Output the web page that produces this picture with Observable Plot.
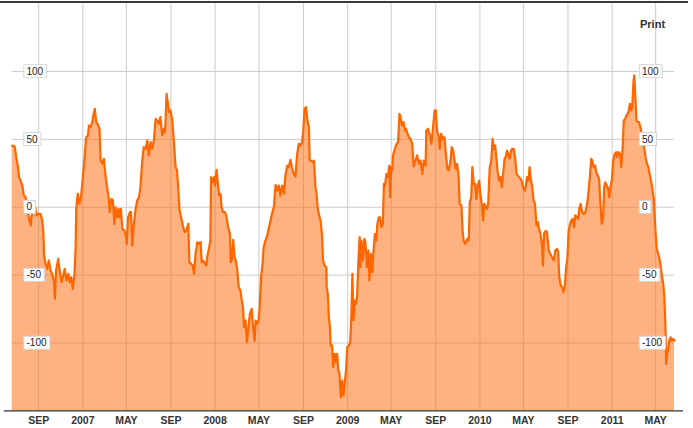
<!DOCTYPE html>
<html><head><meta charset="utf-8">
<script src="https://cdn.jsdelivr.net/npm/d3@7"></script>
<script src="https://cdn.jsdelivr.net/npm/@observablehq/plot@0.6"></script>
<style>
body{margin:0;background:#fff;font-family:"Liberation Sans",Arial,sans-serif;}
#wrap{position:relative;width:693px;height:428px;overflow:hidden;}
#chart{position:absolute;left:0;top:0;}
#print{position:absolute;left:640px;top:19px;font-size:11px;line-height:11px;font-weight:bold;color:#333;}
#topline{position:absolute;left:0;top:1px;width:688px;height:0;border-top:2px solid #3a3a3a;}
</style></head><body>
<div id="wrap"><div id="chart"></div><div id="topline"></div><div id="print">Print</div></div>
<script>
const obs2006 = [["2006-06-20",45.4],["2006-06-27",44.8],["2006-07-01",37],["2006-07-06",29.5],["2006-07-09",22.2],["2006-07-13",19.7],["2006-07-18",16],["2006-07-22",8.7],["2006-07-27",7.4],["2006-07-31",-1.2],
["2006-08-05",-7.4],["2006-08-10",-13.4],["2006-08-12",-7.4],["2006-08-17",0],["2006-08-21",2.5],["2006-08-26",-6],["2006-08-31",-4.9],["2006-09-06",-4.9],["2006-09-11",-9.8],["2006-09-14",-18.4],
["2006-09-16",-35.5],["2006-09-20",-41.7],["2006-09-25",-45.4],["2006-09-29",-39.2],["2006-10-04",-46.6],["2006-10-08",-49],["2006-10-13",-54],["2006-10-16",-67.4],["2006-10-19",-46.6],["2006-10-25",-38],
["2006-10-29",-46.6],["2006-11-03",-55.2],["2006-11-08",-50.3],["2006-11-12",-45.4],["2006-11-17",-54],["2006-11-22",-49],["2006-11-26",-55.2],["2006-11-30",-51.6],["2006-12-04",-60.1],["2006-12-09",-49],
["2006-12-12",-29.5],["2006-12-14",0],["2006-12-18",9.9],["2006-12-23",2.5],["2006-12-27",7.4]];

const obs2007 = [["2007-01-01",22.2],["2007-01-06",37],["2007-01-10",51.6],["2007-01-15",52.8],["2007-01-18",60.2],["2007-01-22",59],["2007-01-27",62.7],["2007-01-30",67.6],["2007-02-03",72.5],["2007-02-07",62.7],["2007-02-11",61.4],["2007-02-16",57.8],["2007-02-19",34.4],["2007-02-24",32],["2007-02-28",35.7],
["2007-03-05",22.2],["2007-03-09",14.8],["2007-03-14",5],["2007-03-16",-3.6],["2007-03-21",6.2],["2007-03-25",5],["2007-03-29",-12.2],["2007-04-01",0],["2007-04-05",-7.4],["2007-04-09",-1.2],["2007-04-12",-7.4],["2007-04-16",-1.2],["2007-04-20",-15.8],["2007-04-25",-17],["2007-04-29",-19.6],
["2007-05-02",-27],["2007-05-06",-7.4],["2007-05-11",-3.6],["2007-05-14",-3.6],["2007-05-17",-28.2],["2007-05-22",-12.2],["2007-05-26",-2.5],["2007-05-31",5],["2007-06-05",7.4],["2007-06-09",14.8],["2007-06-14",34.4],["2007-06-18",44.3],["2007-06-23",43],["2007-06-28",49.2],
["2007-07-02",38.2],["2007-07-07",48],["2007-07-11",43],["2007-07-16",49.2],["2007-07-21",65.1],["2007-07-25",63.9],["2007-07-30",61.5],["2007-08-03",66.4],["2007-08-08",52.9],["2007-08-13",57.8],["2007-08-16",55.3],["2007-08-20",83.5],["2007-08-24",76.2],["2007-08-27",70.1],["2007-08-31",71.3],
["2007-09-05",63.9],["2007-09-09",49.2],["2007-09-14",29.5],["2007-09-18",27.1],["2007-09-21",14.8],["2007-09-25",-2.4],["2007-09-29",-7.2],["2007-10-04",-13.4],["2007-10-09",-18.3],["2007-10-14",-17.1],["2007-10-19",-12.2],["2007-10-22",-40.5],["2007-10-27",-41.7],["2007-10-31",-42.9],
["2007-11-04",-49],["2007-11-08",-34.3],["2007-11-13",-25.7],["2007-11-17",-27],["2007-11-22",-25.7],["2007-11-25",-40.5],["2007-11-29",-39.2],["2007-12-04",-41.7],["2007-12-08",-42.9],["2007-12-10",-36.8],["2007-12-15",-30.6],["2007-12-19",-24.5],["2007-12-21",22.2],["2007-12-25",18.5],["2007-12-29",22.2]];

const obs2008 = [["2008-01-01",16],["2008-01-05",27.6],["2008-01-08",19.7],["2008-01-12",8.7],["2008-01-16",9.9],["2008-01-19",0],["2008-01-23",-3.6],["2008-01-28",-3.6],["2008-02-01",-6],["2008-02-06",-14.8],["2008-02-11",-19.7],["2008-02-13",-40.5],["2008-02-16",-39.2],["2008-02-20",-24.1],["2008-02-24",-36.8],["2008-02-27",-39.2],
["2008-03-02",-45.4],["2008-03-06",-58.9],["2008-03-11",-61.3],["2008-03-14",-67.5],["2008-03-18",-73.6],["2008-03-21",-88.3],["2008-03-25",-83.4],["2008-03-29",-99.4],["2008-04-01",-90.8],["2008-04-06",-78.5],["2008-04-11",-74.8],["2008-04-15",-88.3],["2008-04-19",-98.2],["2008-04-22",-83.4],["2008-04-26",-85.9],["2008-04-30",-83.4],
["2008-05-03",-73.6],["2008-05-07",-51.5],["2008-05-11",-41.7],["2008-05-14",-29.5],["2008-05-19",-24.5],["2008-05-24",-20.8],["2008-05-28",-15.8],["2008-06-02",-9.8],["2008-06-06",-4.9],["2008-06-11",0],["2008-06-16",16.5],["2008-06-20",12.3],["2008-06-25",16],["2008-06-29",8.7],
["2008-07-04",16],["2008-07-09",9.9],["2008-07-13",23.4],["2008-07-18",30.7],["2008-07-22",29.5],["2008-07-27",34.9],["2008-07-31",29.5],["2008-08-05",24.6],["2008-08-10",22.7],["2008-08-14",38.2],["2008-08-19",46.7],["2008-08-24",45.5],["2008-08-28",47.9],["2008-08-31",55.3],
["2008-09-04",72.5],["2008-09-08",73.7],["2008-09-12",63.9],["2008-09-16",59],["2008-09-18",34.4],["2008-09-22",34.4],["2008-09-27",33.2],["2008-09-30",34.4],["2008-10-04",14.8],["2008-10-07",10],["2008-10-10",0],["2008-10-13",-4.9],["2008-10-18",-9.8],["2008-10-22",-19.7],["2008-10-25",-39.2],["2008-10-29",-42.9],
["2008-11-03",-44.1],["2008-11-04",-58.9],["2008-11-07",-63.8],["2008-11-10",-81],["2008-11-13",-88.3],["2008-11-15",-101.8],["2008-11-19",-101.8],["2008-11-22",-117.7],["2008-11-26",-107.9],["2008-11-29",-114.1],["2008-12-03",-107.9],["2008-12-06",-120.2],["2008-12-09",-121.5],["2008-12-13",-139.9],["2008-12-17",-127.6],["2008-12-20",-138.7],["2008-12-24",-130.1],["2008-12-28",-117.7],["2008-12-31",-103]];

const obs2009 = [["2009-01-04",-101.8],["2009-01-08",-99.3],["2009-01-11",-81],["2009-01-14",-49],["2009-01-17",-83.4],["2009-01-21",-68.7],["2009-01-24",-71.1],["2009-01-27",-65],["2009-01-31",-36.8],["2009-02-03",-22],["2009-02-05",-44.1],["2009-02-08",-24.5],["2009-02-12",-39.2],["2009-02-16",-23.3],["2009-02-19",-25.7],["2009-02-23",-44.1],["2009-02-27",-31.9],
["2009-03-02",-54],["2009-03-06",-34.3],["2009-03-10",-47.8],["2009-03-13",-33.1],["2009-03-17",-19.7],["2009-03-21",-24.5],["2009-03-24",-12.2],["2009-03-28",-7.4],["2009-03-31",-7.4],["2009-04-04",-14.7],["2009-04-08",-12.2],["2009-04-11",17.2],["2009-04-14",16],["2009-04-18",24.6],["2009-04-22",22.2],["2009-04-26",30.7],["2009-04-28",7.4],
["2009-05-01",29.5],["2009-05-04",27.1],["2009-05-06",38.2],["2009-05-10",41.8],["2009-05-14",45.5],["2009-05-16",46.7],["2009-05-20",47.9],["2009-05-24",68.8],["2009-05-27",66.4],["2009-05-31",60.2],["2009-06-04",62.7],["2009-06-08",56.5],["2009-06-11",57.8],["2009-06-15",54.1],["2009-06-19",51.6],["2009-06-23",50.4],["2009-06-28",47],
["2009-07-02",30],["2009-07-07",34.4],["2009-07-12",38.2],["2009-07-16",32],["2009-07-21",34.4],["2009-07-26",24.6],["2009-07-30",34.4],["2009-08-04",30.7],["2009-08-06",56.5],["2009-08-11",57.8],["2009-08-16",52.9],["2009-08-20",46.7],["2009-08-25",60.2],["2009-08-29",71.3],
["2009-09-01",71.3],["2009-09-05",55.3],["2009-09-09",52.9],["2009-09-12",43],["2009-09-16",54],["2009-09-20",50.4],["2009-09-25",51.6],["2009-09-29",39.4],["2009-10-03",28.3],["2009-10-07",27.1],["2009-10-12",34.4],["2009-10-15",44.3],["2009-10-19",41.8],["2009-10-23",34.4],["2009-10-26",28.3],["2009-10-30",32],
["2009-11-03",23.4],["2009-11-06",2.5],["2009-11-11",1.3],["2009-11-14",-17.2],["2009-11-17",-24.5],["2009-11-22",-27],["2009-11-27",-23.3],["2009-12-01",-24.5],["2009-12-04",3.7],["2009-12-08",7.4],["2009-12-11",29.5],["2009-12-15",17.2],["2009-12-19",17.2],["2009-12-22",6.2],["2009-12-26",16],["2009-12-30",19.7]];

const obs2010 = [["2010-01-02",9.9],["2010-01-06",2.5],["2010-01-10",-9.8],["2010-01-13",2.5],["2010-01-17",0],["2010-01-21",-1.2],["2010-01-24",3.7],["2010-01-28",29.5],["2010-02-01",33.2],["2010-02-05",50.4],["2010-02-08",43],["2010-02-12",45.5],["2010-02-16",34.4],["2010-02-19",25.8],["2010-02-23",19.7],["2010-02-27",22.2],
["2010-03-02",14.8],["2010-03-06",24.6],["2010-03-10",35.7],["2010-03-13",36.9],["2010-03-17",41.8],["2010-03-21",38.2],["2010-03-24",35.7],["2010-03-28",41.8],["2010-03-31",43],["2010-04-04",43],["2010-04-08",36.9],["2010-04-12",24.6],["2010-04-15",23.4],["2010-04-19",22.2],["2010-04-23",20.9],["2010-04-26",19.7],["2010-04-30",14.8],
["2010-05-04",12.3],["2010-05-07",14.8],["2010-05-11",22.2],["2010-05-15",19.7],["2010-05-18",29.5],["2010-05-22",19.7],["2010-05-26",13.6],["2010-05-29",5],["2010-06-02",2.5],["2010-06-06",-13.4],["2010-06-10",-11],["2010-06-13",-15.8],["2010-06-17",-19.6],["2010-06-21",-27],["2010-06-24",-42.9],["2010-06-27",-19.6],
["2010-07-01",-17.5],["2010-07-05",-18],["2010-07-10",-31.9],["2010-07-14",-34.3],["2010-07-19",-36.8],["2010-07-24",-39.2],["2010-07-28",-31.9],["2010-08-02",-30.6],["2010-08-05",-33.1],["2010-08-08",-51.6],["2010-08-12",-57.7],["2010-08-16",-58.9],["2010-08-19",-62.6],["2010-08-23",-58.9],["2010-08-27",-44.1],["2010-08-30",-39.2],
["2010-09-03",-17.2],["2010-09-07",-12.2],["2010-09-10",-9.8],["2010-09-14",-8.6],["2010-09-18",-14.7],["2010-09-21",-6],["2010-09-25",-7.2],["2010-09-29",-8.6],["2010-10-03",0],["2010-10-06",2.5],["2010-10-10",-3.6],["2010-10-14",-4.9],["2010-10-19",-3.6],["2010-10-24",2.5],["2010-10-27",9.9],["2010-10-29",14.8],
["2010-11-01",24.6],["2010-11-04",35.7],["2010-11-07",34.4],["2010-11-11",29.5],["2010-11-15",30.7],["2010-11-18",25.8],["2010-11-22",23.4],["2010-11-26",20.9],["2010-11-29",5],["2010-12-03",-12.2],["2010-12-07",-7.4],["2010-12-10",14.8],["2010-12-13",18.4],["2010-12-17",16],["2010-12-21",13.6],["2010-12-24",7.4],["2010-12-28",16],["2010-12-31",19.7]];

const obs2011 = [["2011-01-04",34.4],["2011-01-08",39.3],["2011-01-12",40.6],["2011-01-15",36.9],["2011-01-19",40.6],["2011-01-23",39.3],["2011-01-26",29.5],["2011-01-30",44.3],["2011-02-02",63.9],["2011-02-06",65.1],["2011-02-09",67.6],["2011-02-13",68.8],["2011-02-16",71.3],["2011-02-19",76.2],["2011-02-23",71.3],["2011-02-26",77.4],
["2011-03-01",93.4],["2011-03-03",97.1],["2011-03-06",81.1],["2011-03-09",63.9],["2011-03-13",62.7],["2011-03-16",62.7],["2011-03-20",59],["2011-03-24",52.9],["2011-03-27",46.7],["2011-03-31",43],["2011-04-03",36.9],["2011-04-07",32],["2011-04-11",29.5],["2011-04-14",24.6],["2011-04-18",19.7],["2011-04-22",13.6],["2011-04-26",6.2],["2011-04-28",-4.9],
["2011-05-01",-19.6],["2011-05-04",-30.6],["2011-05-08",-34.3],["2011-05-11",-36.8],["2011-05-15",-44.1],["2011-05-19",-51.6],["2011-05-22",-56.4],["2011-05-25",-66.2],["2011-05-28",-88.3],["2011-05-30",-115.3],["2011-06-02",-107.9],["2011-06-05",-103],["2011-06-08",-98.2],["2011-06-11",-95.8],["2011-06-14",-98.2],["2011-06-18",-97],["2011-06-22",-98.2]];

const yTicks = [100, 50, 0, -50, -100];
const yTickLabels = ["100", "50", "0", "-50", "-100"];
const yDomain = [-150, 150];
const xTickDates = ["2006-09-01","2007-01-01","2007-05-01","2007-09-01","2008-01-01","2008-05-01","2008-09-01","2009-01-01","2009-05-01","2009-09-01","2010-01-01","2010-05-01","2010-09-01","2011-01-01","2011-05-01"];
const xTickLabels = ["SEP","2007","MAY","SEP","2008","MAY","SEP","2009","MAY","SEP","2010","MAY","SEP","2011","MAY"];

const rows = [...obs2006, ...obs2007, ...obs2008, ...obs2009, ...obs2010, ...obs2011]
  .map(([d, v]) => ({date: new Date(d), value: v}));
const ticks = xTickDates.map(d => new Date(d));

const chart = Plot.plot({
  width: 693,
  height: 428,
  marginTop: 3.1,
  marginBottom: 17.6,
  marginLeft: 11.7,
  marginRight: 19,
  style: {background: "transparent", fontFamily: "'Liberation Sans', Arial, sans-serif", overflow: "visible"},
  x: {type: "utc", domain: [rows[0].date, rows[rows.length - 1].date], axis: null},
  y: {domain: yDomain, axis: null},
  marks: [
    Plot.ruleX(ticks, {stroke: "#cccccc", strokeWidth: 1}),
    Plot.ruleY(yTicks, {stroke: "#cccccc", strokeWidth: 1}),
    Plot.areaY(rows, {x: "date", y1: yDomain[0], y2: "value", fill: "#ff6600", fillOpacity: 0.5}),
    Plot.lineY(rows, {x: "date", y: "value", stroke: "#ff6600", strokeWidth: 2.2, strokeLinejoin: "round"}),
    Plot.ruleY([yDomain[0]], {stroke: "#333", strokeWidth: 1.2, insetLeft: -8, insetRight: -9}),
    Plot.text(xTickLabels, {x: (d, i) => ticks[i], text: d => d, frameAnchor: "bottom", dy: 9.5, lineAnchor: "middle", fontWeight: "bold", fontSize: 10.5, fill: "#333"}),
    Plot.text(yTickLabels, {y: (d, i) => yTicks[i], text: d => d, frameAnchor: "left", dx: 14.3, textAnchor: "start", lineAnchor: "middle", fontSize: 10, fill: "#222"}),
    Plot.text(yTickLabels, {y: (d, i) => yTicks[i], text: d => d, frameAnchor: "right", dx: -32.5, textAnchor: "start", lineAnchor: "middle", fontSize: 10, fill: "#222"})
  ]
});
document.getElementById("chart").appendChild(chart);

// white boxes behind the value labels
const labelSet = new Set(yTickLabels);
chart.querySelectorAll("text").forEach(t => {
  if (!labelSet.has(t.textContent)) return;
  const bb = t.getBBox();
  const r = document.createElementNS("http://www.w3.org/2000/svg", "rect");
  r.setAttribute("x", bb.x - 2.7);
  r.setAttribute("y", bb.y - 1);
  r.setAttribute("width", bb.width + 5.6);
  r.setAttribute("height", bb.height + 2);
  r.setAttribute("fill", "#fff");
  r.setAttribute("stroke", "#d6d6d6");
  r.setAttribute("stroke-width", "1");
  const tr = t.getAttribute("transform");
  if (tr) r.setAttribute("transform", tr);
  t.parentNode.insertBefore(r, t);
});
</script>
</body></html>
